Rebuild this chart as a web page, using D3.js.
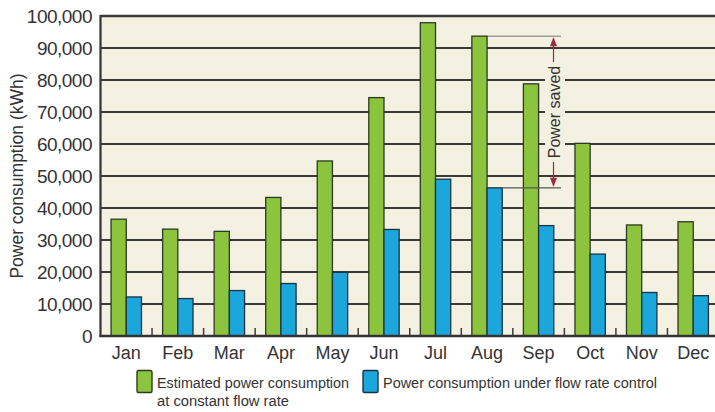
<!DOCTYPE html>
<html><head><meta charset="utf-8">
<script src="https://cdn.jsdelivr.net/npm/d3@7/dist/d3.min.js"></script>
<style>body{margin:0;background:#fff}svg{display:block}text{font-family:"Liberation Sans",Arial,sans-serif}</style>
</head><body>
<svg id="c" width="715" height="412"></svg>
<script>
const months = ["Jan","Feb","Mar","Apr","May","Jun","Jul","Aug","Sep","Oct","Nov","Dec"];
const constantFlow = [36500,33400,32700,43300,54700,74500,97900,93700,78800,60200,34700,35700];
const flowControl = [12200,11700,14200,16400,19900,33300,49000,46300,34500,25600,13600,12600];
const yTicks = [0,10000,20000,30000,40000,50000,60000,70000,80000,90000,100000];
const legendLabels = [["Estimated power consumption","at constant flow rate"],["Power consumption under flow rate control"]];
const annotationLabel = "Power saved";

const svg = d3.select("#c");
const L = 100.5, R = 719, T = 16, B = 336;
const x = d3.scaleBand().domain(months).range([L, R]).paddingInner(0).paddingOuter(0);
const y = d3.scaleLinear().domain([0,100000]).range([B, T]);
const bw = 15.2;

svg.append("rect").attr("x",L).attr("y",T).attr("width",715-L).attr("height",B-T).attr("fill","#f4f1e3");

// gridlines
svg.append("g").selectAll("line").data(yTicks.filter(d=>d>0)).join("line")
  .attr("x1",L).attr("x2",715).attr("y1",d=>y(d)).attr("y2",d=>y(d))
  .attr("stroke","#3a3a36").attr("stroke-width",d=>d===100000?2.6:2);

// tick marks at category boundaries
svg.append("g").selectAll("line").data(months.slice(1)).join("line")
  .attr("x1",d=>x(d)).attr("x2",d=>x(d)).attr("y1",B).attr("y2",B-8)
  .attr("stroke","#3c3c38").attr("stroke-width",1.5);

const g = svg.append("g");
g.selectAll("rect.g").data(months).join("rect").attr("class","g")
  .attr("x",d=>x(d)+x.bandwidth()/2-bw).attr("width",bw)
  .attr("y",(d,i)=>y(constantFlow[i])).attr("height",(d,i)=>B-y(constantFlow[i]))
  .attr("fill","#8cc43e").attr("stroke","#2c3a22").attr("stroke-width",1.3);
g.selectAll("rect.b").data(months).join("rect").attr("class","b")
  .attr("x",d=>x(d)+x.bandwidth()/2).attr("width",bw)
  .attr("y",(d,i)=>y(flowControl[i])).attr("height",(d,i)=>B-y(flowControl[i]))
  .attr("fill","#1ba6dc").attr("stroke","#1d3340").attr("stroke-width",1.3);

// axes lines
svg.append("line").attr("x1",L).attr("x2",L).attr("y1",T-1).attr("y2",B+1).attr("stroke","#333").attr("stroke-width",2.2);
svg.append("line").attr("x1",L-1).attr("x2",715).attr("y1",B).attr("y2",B).attr("stroke","#333").attr("stroke-width",2.4);

// y tick labels
svg.append("g").selectAll("text").data(yTicks).join("text")
  .attr("x",92).attr("y",d=>y(d)+7).attr("text-anchor","end")
  .attr("font-size",19).attr("fill","#333").attr("letter-spacing","-0.5")
  .text(d=>d3.format(",")(d));

// y title
svg.append("text").attr("transform","translate(23,176) rotate(-90)").attr("text-anchor","middle")
  .attr("font-size",17.5).attr("fill","#333").text("Power consumption (kWh)");

// month labels
svg.append("g").selectAll("text").data(months).join("text")
  .attr("x",d=>x(d)+x.bandwidth()/2).attr("y",359).attr("text-anchor","middle")
  .attr("font-size",18).attr("fill","#333").text(d=>d);

// annotation (Aug)
const ai = months.indexOf("Aug");
const ax = 553.5, ytop = y(constantFlow[ai]), ybot = y(flowControl[ai]);
const red = "#a3283c";
svg.append("line").attr("x1",x("Aug")+x.bandwidth()/2).attr("x2",561).attr("y1",ytop).attr("y2",ytop).attr("stroke","#555").attr("stroke-width",0.8);
svg.append("line").attr("x1",x("Aug")+x.bandwidth()/2+bw).attr("x2",561).attr("y1",ybot).attr("y2",ybot).attr("stroke","#555").attr("stroke-width",1.2);
svg.append("rect").attr("x",545).attr("y",60).attr("width",20).attr("height",106).attr("fill","#f4f1e3");
svg.append("line").attr("x1",ax).attr("x2",ax).attr("y1",ytop+2).attr("y2",62).attr("stroke",red).attr("stroke-width",1.2);
svg.append("line").attr("x1",ax).attr("x2",ax).attr("y1",162).attr("y2",ybot-2).attr("stroke",red).attr("stroke-width",1.2);
svg.append("path").attr("d",`M${ax},${ytop+1} l-3.5,9 l7,0 z`).attr("fill",red);
svg.append("path").attr("d",`M${ax},${ybot-1} l-3.5,-9 l7,0 z`).attr("fill",red);
svg.append("text").attr("transform",`translate(${ax+6},112) rotate(-90)`).attr("text-anchor","middle")
  .attr("font-size",16).attr("fill","#333").text(annotationLabel);

// legend
const lg = svg.append("g");
const items = [{x:137,fill:"#8cc43e",stroke:"#2c3a22",tx:157,lines:legendLabels[0],w:[192,132]},
               {x:363,fill:"#1ba6dc",stroke:"#1d3340",tx:383,lines:legendLabels[1],w:[274]}];
items.forEach(it=>{
  lg.append("rect").attr("x",it.x).attr("y",370.5).attr("width",15).attr("height",22).attr("rx",1.5)
    .attr("fill",it.fill).attr("stroke",it.stroke).attr("stroke-width",1.4);
  it.lines.forEach((t,j)=>{
    lg.append("text").attr("x",it.tx).attr("y",388+j*18).attr("font-size",15.5).attr("fill","#333")
      .attr("textLength",it.w[j]).attr("lengthAdjust","spacingAndGlyphs").text(t);
  });
});
</script>
</body></html>
